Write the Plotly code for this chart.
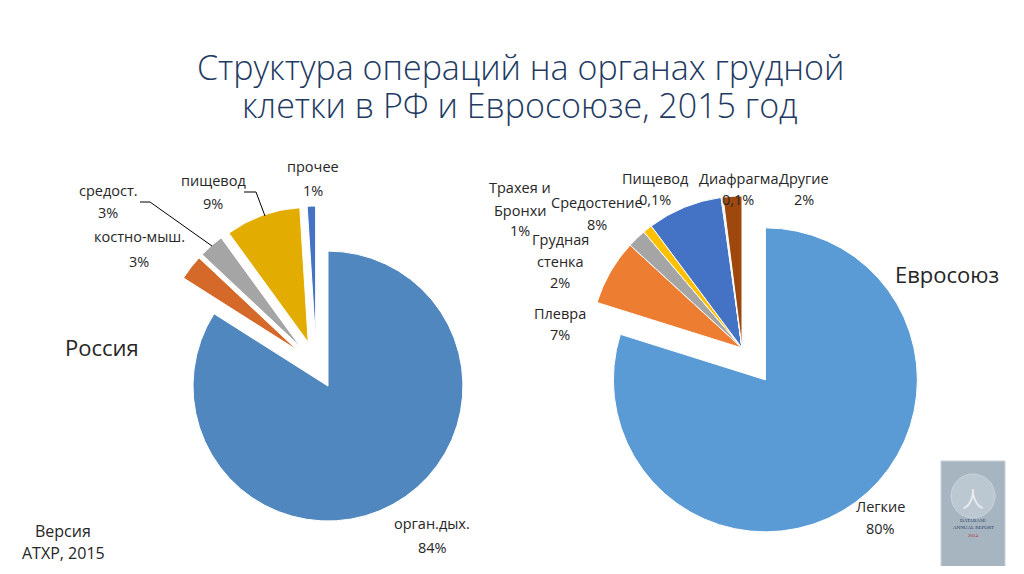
import plotly.graph_objects as go

# ---- data ----
ru_labels = ["орган.дых.", "костно-мыш.", "средост.", "пищевод", "прочее"]
ru_values = [84, 3, 3, 9, 1]
ru_text = ["84%", "3%", "3%", "9%", "1%"]
ru_colors = ["#4F87BE", "#D5692A", "#A5A5A5", "#E2AC00", "#4472C4"]

eu_labels = ["Легкие", "Плевра", "Грудная стенка", "Трахея и Бронхи",
             "Средостение", "Пищевод", "Диафрагма", "Другие"]
eu_values = [80, 7, 2, 1, 8, 0.1, 0.1, 2]
eu_text = ["80%", "7%", "2%", "1%", "8%", "0,1%", "0,1%", "2%"]
eu_colors = ["#5B9BD5", "#ED7D31", "#A5A5A5", "#FFC000", "#4472C4",
             "#70AD47", "#264478", "#9E480E"]

# page body has an 8px margin; figure sized to fit inside the window
OFF = 8
W, H = 1024 - 2 * OFF, 574 - 2 * OFF
def px(x):
    return (x - OFF) / W
def py(y):
    return 1 - (y - OFF) / H

FONT = "Open Sans"
TXT = "#262626"

fig = go.Figure()

# Russia pie: all slices exploded
ru_pull = 0.178
fig.add_trace(go.Pie(
    labels=ru_labels, values=ru_values, sort=False, direction="clockwise",
    rotation=0, pull=[ru_pull] * len(ru_values),
    marker=dict(colors=ru_colors, line=dict(color="white", width=1)),
    textinfo="none", hoverinfo="label+percent", showlegend=False,
    domain=dict(x=[px(316.4 - 159), px(316.4 + 159)],
                y=[py(365 + 159), py(365 - 159)]),
))

# EU pie: main slice exploded
eu_pull = [0.26] + [0] * (len(eu_values) - 1)
half = 152 * 1.26
fig.add_trace(go.Pie(
    labels=eu_labels, values=eu_values, sort=False, direction="clockwise",
    rotation=0, pull=eu_pull,
    marker=dict(colors=eu_colors, line=dict(color="white", width=1)),
    textinfo="none", hoverinfo="label+percent", showlegend=False,
    domain=dict(x=[px(742 - half), px(742 + half)],
                y=[py(348 + half), py(348 - half)]),
))

ann = []
def label(x, y, text, size=14.5, color=TXT, family=FONT, weight=None):
    f = dict(family=family, size=size, color=color)
    if weight:
        f["weight"] = weight
    ann.append(dict(x=px(x), y=py(y), xref="paper", yref="paper", text=text,
                    showarrow=False, xanchor="center", yanchor="middle",
                    font=f, align="center"))

# Title
label(520, 67, "Структура операций на органах грудной", size=34, color="#1F3B63", weight=300)
label(520, 105, "клетки в РФ и Евросоюзе, 2015 год", size=34, color="#1F3B63", weight=300)

# Russia labels
lab_ru = {
    "прочее": (313, 166, 190),
    "пищевод": (213, 180, 203),
    "средост.": (108, 190, 213),
    "костно-мыш.": (139, 237, 261),
    "орган.дых.": (432, 523, 547),
}
for name, pct in zip(ru_labels, ru_text):
    x, y1, y2 = lab_ru[name]
    label(x, y1, name)
    label(x, y2, pct)

label(102, 347, "Россия", size=22)
label(63, 531, "Версия", size=16)
label(63, 553, "АТХР, 2015", size=16)

# EU labels
lab_eu = {
    "Легкие": [(880, 507, "Легкие"), (880, 528, "80%")],
    "Плевра": [(560, 313, "Плевра"), (560, 334, "7%")],
    "Грудная стенка": [(560, 240, "Грудная"), (560, 262, "стенка"), (560, 283, "2%")],
    "Трахея и Бронхи": [(520, 188, "Трахея и"), (520, 210, "Бронхи"), (520, 231, "1%")],
    "Средостение": [(597, 202, "Средостение"), (597, 225, "8%")],
    "Пищевод": [(655, 178, "Пищевод"), (655, 199, "0,1%")],
    "Диафрагма": [(738, 178, "Диафрагма"), (738, 199, "0,1%")],
    "Другие": [(804, 178, "Другие"), (804, 199, "2%")],
}
for name in eu_labels:
    for x, y, t in lab_eu[name]:
        label(x, y, t)

label(947, 274, "Евросоюз", size=22)

# leader lines (Russia)
shapes = [
    dict(type="path", xref="paper", yref="paper",
         path=f"M {px(244)} {py(192)} L {px(256)} {py(192)} L {px(265)} {py(216)}",
         line=dict(color="#000000", width=1)),
    dict(type="path", xref="paper", yref="paper",
         path=f"M {px(140)} {py(202)} L {px(150)} {py(202)} L {px(212)} {py(246)}",
         line=dict(color="#000000", width=1)),
]

# report cover logo (bottom right)
shapes += [
    dict(type="rect", xref="paper", yref="paper",
         x0=px(941), x1=px(1005), y0=py(570), y1=py(461),
         fillcolor="#A7B5C1", line=dict(color="#C8D0D8", width=1)),
    dict(type="circle", xref="paper", yref="paper",
         x0=px(951), x1=px(995), y0=py(518), y1=py(474),
         fillcolor="#BBC7D1", line=dict(color="#CBD4DC", width=1)),
]
label(973, 520, "DATABASE", size=5, color="#1F3B63", family="Liberation Serif")
label(973, 527, "ANNUAL REPORT", size=5, color="#1F3B63", family="Liberation Serif")
label(973, 535, "2014", size=5, color="#C0272D", family="Liberation Serif")
label(973, 497, "人", size=22, color="#E8EDF2", family="Noto Sans CJK SC")

fig.update_layout(
    width=W, height=H, margin=dict(l=0, r=0, t=0, b=0),
    paper_bgcolor="white", plot_bgcolor="white",
    annotations=ann, shapes=shapes, showlegend=False,
)

fig.write_html("out.html")
